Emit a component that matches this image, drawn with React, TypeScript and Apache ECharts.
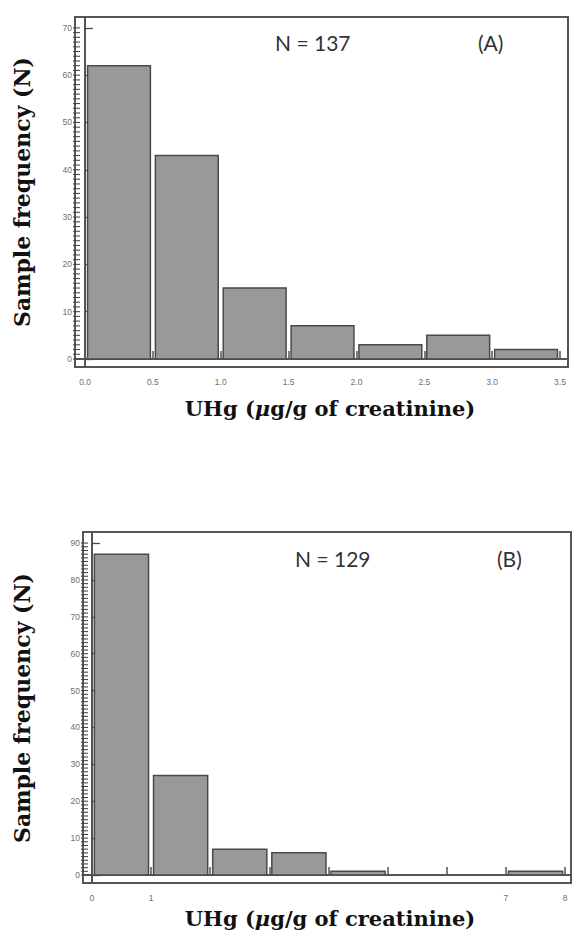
import React, { useEffect, useRef } from "react";
import * as echarts from "echarts";

// Panel A data
const binEdgesA = [0, 0.5, 1.0, 1.5, 2.0, 2.5, 3.0, 3.5];
const countsA = [62, 43, 15, 7, 3, 5, 2];
const xLabelsA = [0, 0.5, 1.0, 1.5, 2.0, 2.5, 3.0, 3.5];
const yLabelsA = [0, 10, 20, 30, 40, 50, 60, 70];
const titleA = "N = 137";
const tagA = "(A)";

// Panel B data
const binEdgesB = [0, 1, 2, 3, 4, 5, 6, 7, 8];
const countsB = [87, 27, 7, 6, 1, 0, 0, 1];
const xTicksB = [0, 1, 2, 3, 4, 5, 6, 7, 8];
const xLabelsB = [0, 1, 7, 8];
const yLabelsB = [0, 10, 20, 30, 40, 50, 60, 70, 80, 90];
const titleB = "N = 129";
const tagB = "(B)";

const yTitle = "Sample frequency (N)";

const X_MIN_A = -0.074, X_MAX_A = 3.559, Y_MIN_A = -1.7, Y_MAX_A = 72.3;
const X_MIN_B = -0.15, X_MAX_B = 8.1, Y_MIN_B = -2.17, Y_MAX_B = 93;

function rangeStep(a: number, b: number, s: number) {
  const out: number[] = [];
  for (let v = a; v <= b + 1e-9; v += s) out.push(+v.toFixed(6));
  return out;
}

function bins(edges: number[], counts: number[]) {
  const out: number[][] = [];
  counts.forEach((c, i) => {
    if (c > 0) out.push([edges[i], edges[i + 1], c]);
  });
  return out;
}

const FRAME = "#555";
const LABEL = "#6f6f6f";

function renderBar(params: any, api: any) {
  const x0 = api.value(0);
  const x1 = api.value(1);
  const c = api.value(2);
  const p0 = api.coord([x0, 0]);
  const p1 = api.coord([x1, c]);
  return {
    type: "rect",
    shape: {
      x: p0[0] + 2.5,
      y: p1[1],
      width: p1[0] - p0[0] - 5,
      height: p0[1] - p1[1],
    },
    style: { fill: "#999999", stroke: "#4a4a4a", lineWidth: 1.5 },
  };
}

function renderMinorTick(params: any, api: any) {
  const p = api.coord([api.value(0), api.value(1)]);
  return {
    type: "line",
    shape: { x1: p[0] - 2, y1: p[1], x2: p[0] + 5, y2: p[1] },
    style: { stroke: "#4a4a4a", lineWidth: 1.1 },
  };
}

function xAxisCfg(grid: number, min: number, max: number, ticks: number[], labels: number[], fmt: (v: number) => string) {
  return {
    type: "value",
    gridIndex: grid,
    min,
    max,
    axisLine: { show: true, lineStyle: { color: FRAME, width: 2 } },
    axisTick: { show: true, inside: true, length: 8, customValues: ticks, lineStyle: { color: FRAME, width: 1.5 } },
    axisLabel: { show: true, customValues: labels, formatter: fmt, fontSize: 8.5, color: LABEL, margin: 10, fontFamily: "Liberation Sans" },
    splitLine: { show: false },
  };
}

function yAxisMajor(grid: number, min: number, max: number, labels: number[]) {
  return {
    type: "value",
    gridIndex: grid,
    min,
    max,
    position: "left",
    axisLine: { show: true, lineStyle: { color: FRAME, width: 2 } },
    axisTick: { show: true, inside: true, length: 8, customValues: labels, lineStyle: { color: "#4a4a4a", width: 1.3 } },
    axisLabel: { show: true, customValues: labels, fontSize: 8.5, color: LABEL, margin: 3, fontFamily: "Liberation Sans" },
    splitLine: { show: false },
  };
}

const xTitleRich = {
  a: { fontFamily: "DejaVu Serif", fontWeight: "bold", fontSize: 21, fill: "#111" },
  i: { fontFamily: "DejaVu Serif", fontWeight: "bold", fontStyle: "italic", fontSize: 21, fill: "#111" },
};

export default function App() {
  const ref = useRef<HTMLDivElement>(null);
  useEffect(() => {
    if (!ref.current) return;
    const chart = echarts.init(ref.current, undefined, { renderer: "svg" });
    const option: any = {
      animation: false,
      backgroundColor: "#fff",
      grid: [
        { left: 75, top: 17, width: 493, height: 350, show: true, borderColor: FRAME, borderWidth: 2, backgroundColor: "transparent" },
        { left: 83, top: 532, width: 488, height: 351, show: true, borderColor: FRAME, borderWidth: 2, backgroundColor: "transparent" },
      ],
      xAxis: [
        xAxisCfg(0, X_MIN_A, X_MAX_A, xLabelsA, xLabelsA, (v: number) => v.toFixed(1)),
        xAxisCfg(1, X_MIN_B, X_MAX_B, xTicksB, xLabelsB, (v: number) => String(v)),
      ],
      yAxis: [
        yAxisMajor(0, Y_MIN_A, Y_MAX_A, yLabelsA),
        yAxisMajor(1, Y_MIN_B, Y_MAX_B, yLabelsB),
      ],
      series: [
        {
          type: "custom",
          xAxisIndex: 0,
          yAxisIndex: 0,
          renderItem: renderBar,
          encode: { x: [0, 1], y: 2 },
          data: bins(binEdgesA, countsA),
        },
        {
          type: "custom",
          xAxisIndex: 1,
          yAxisIndex: 1,
          renderItem: renderBar,
          encode: { x: [0, 1], y: 2 },
          data: bins(binEdgesB, countsB),
        },
        {
          type: "custom",
          xAxisIndex: 0,
          yAxisIndex: 0,
          renderItem: renderMinorTick,
          encode: { x: 0, y: 1 },
          data: rangeStep(0, 70, 1).map((v) => [X_MIN_A, v]),
        },
        {
          type: "custom",
          xAxisIndex: 1,
          yAxisIndex: 1,
          renderItem: renderMinorTick,
          encode: { x: 0, y: 1 },
          data: rangeStep(0, 90, 1).map((v) => [X_MIN_B, v]),
        },
      ],
      graphic: [
        { type: "text", x: 275, y: 42, style: { text: titleA, fontFamily: "Lato", fontSize: 21, fill: "#333", textVerticalAlign: "middle" } },
        { type: "text", x: 478, y: 42, style: { text: tagA, fontFamily: "Lato", fontSize: 21, fill: "#333", textVerticalAlign: "middle" } },
        { type: "text", x: 295, y: 558, style: { text: titleB, fontFamily: "Lato", fontSize: 21, fill: "#333", textVerticalAlign: "middle" } },
        { type: "text", x: 497, y: 558, style: { text: tagB, fontFamily: "Lato", fontSize: 21, fill: "#333", textVerticalAlign: "middle" } },
        {
          type: "text", x: 22, y: 192, rotation: Math.PI / 2,
          style: { text: yTitle, fontFamily: "DejaVu Serif", fontWeight: "bold", fontSize: 22, fill: "#111", textAlign: "center", textVerticalAlign: "middle" },
        },
        {
          type: "text", x: 22, y: 708, rotation: Math.PI / 2,
          style: { text: yTitle, fontFamily: "DejaVu Serif", fontWeight: "bold", fontSize: 22, fill: "#111", textAlign: "center", textVerticalAlign: "middle" },
        },
        {
          type: "text", x: 330, y: 408,
          style: { text: "{a|UHg (}{i|μ}{a|g/g of creatinine)}", rich: xTitleRich, textAlign: "center", textVerticalAlign: "middle" },
        },
        {
          type: "text", x: 330, y: 918,
          style: { text: "{a|UHg (}{i|μ}{a|g/g of creatinine)}", rich: xTitleRich, textAlign: "center", textVerticalAlign: "middle" },
        },
      ],
    };
    chart.setOption(option);
    return () => chart.dispose();
  }, []);
  return <div ref={ref} style={{ position: "absolute", left: 0, top: 0, width: 572, height: 934 }} />;
}
